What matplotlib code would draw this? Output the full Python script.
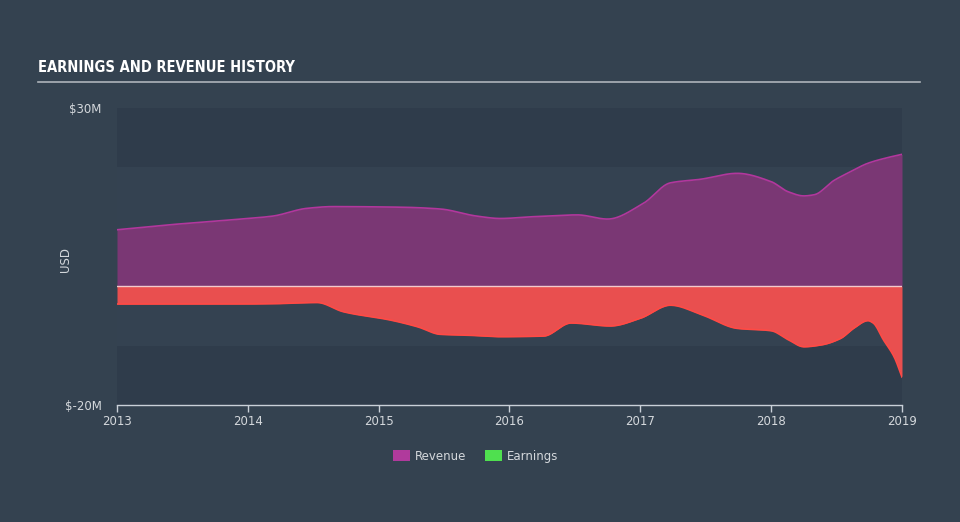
import numpy as np
import matplotlib
matplotlib.use("Agg")
import matplotlib.pyplot as plt
from matplotlib.patches import Patch
from matplotlib.lines import Line2D

# ---- data (values in $M) ----
rev_years = [2013.0, 2013.38, 2013.89, 2014.19, 2014.45, 2014.65, 2015.17, 2015.47,
             2015.75, 2015.93, 2016.18, 2016.52, 2016.75, 2017.02, 2017.23, 2017.46,
             2017.74, 2018.0, 2018.13, 2018.25, 2018.33, 2018.48, 2018.6, 2018.74,
             2018.9, 2019.0]
revenue = [9.5, 10.3, 11.2, 11.8, 13.1, 13.4, 13.3, 13.0,
           11.8, 11.4, 11.7, 12.0, 11.3, 13.9, 17.4, 18.0,
           19.0, 17.6, 15.9, 15.2, 15.4, 17.8, 19.2, 20.7,
           21.7, 22.2]

earn_years = [2013.0, 2013.89, 2014.19, 2014.53, 2014.73, 2015.09, 2015.30, 2015.47,
              2015.68, 2015.93, 2016.26, 2016.47, 2016.77, 2017.0, 2017.23, 2017.48,
              2017.74, 2018.0, 2018.13, 2018.25, 2018.38, 2018.53, 2018.63, 2018.74,
              2018.78, 2018.86, 2018.94, 2019.0]
earnings = [-3.0, -3.0, -2.95, -2.75, -4.3, -5.7, -6.85, -8.1,
            -8.25, -8.5, -8.4, -6.2, -6.7, -5.4, -3.2, -4.9,
            -7.1, -7.5, -9.0, -10.2, -9.9, -8.8, -7.1, -5.8,
            -6.2, -9.1, -11.9, -15.3]

year_ticks = [2013, 2014, 2015, 2016, 2017, 2018, 2019]
y_ticks = [30, -20]
y_tick_labels = ["$30M", "$-20M"]
series_names = ["Revenue", "Earnings"]


def monotone(x, y, n=800):
    """Monotone cubic (Fritsch-Carlson) rendering of a curve, like d3 curveMonotoneX."""
    x = np.asarray(x, float)
    y = np.asarray(y, float)
    h = np.diff(x)
    d = np.diff(y) / h
    m = np.zeros_like(y)
    m[0], m[-1] = d[0], d[-1]
    for i in range(1, len(y) - 1):
        if d[i - 1] * d[i] <= 0:
            m[i] = 0
        else:
            w1 = 2 * h[i] + h[i - 1]
            w2 = h[i] + 2 * h[i - 1]
            m[i] = (w1 + w2) / (w1 / d[i - 1] + w2 / d[i])
    xs = np.linspace(x[0], x[-1], n)
    idx = np.clip(np.searchsorted(x, xs) - 1, 0, len(x) - 2)
    t = (xs - x[idx]) / h[idx]
    h00 = 2 * t**3 - 3 * t**2 + 1
    h10 = t**3 - 2 * t**2 + t
    h01 = -2 * t**3 + 3 * t**2
    h11 = t**3 - t**2
    ys = h00 * y[idx] + h10 * h[idx] * m[idx] + h01 * y[idx + 1] + h11 * h[idx] * m[idx + 1]
    return xs, ys


BG = "#344250"
fig = plt.figure(figsize=(9.6, 5.22), dpi=100, facecolor=BG)
ax = fig.add_axes([117 / 960, 1 - 405 / 522, 785 / 960, 297 / 522])
ax.set_facecolor("#334150")

ax.set_xlim(2013, 2019.0)
ax.set_ylim(-20, 30)

# background bands
ax.axhspan(20, 30, color="#2f3c4b", zorder=0, lw=0)
ax.axhspan(-20, -10, color="#2f3c4b", zorder=0, lw=0)
ax.axhspan(-10, 20, color="#344251", zorder=0, lw=0)

rx, ry = monotone(rev_years, revenue)
ex, ey = monotone(earn_years, earnings)

ax.fill_between(rx, 0, ry, color="#7a3774", lw=0, zorder=2)
ax.plot(rx, ry, color="#b2379d", lw=1.2, zorder=3)
ax.fill_between(ex, 0, ey, color="#e94f4f", lw=0, zorder=2)
ax.plot(ex, ey, color="#ff4a45", lw=1.2, zorder=3)
ax.axhline(0, color="#f3c9cc", lw=1.0, zorder=4)

for s in ["top", "right", "left"]:
    ax.spines[s].set_visible(False)
ax.spines["bottom"].set_color("#c9d0d8")
ax.spines["bottom"].set_linewidth(1)

ax.set_xticks(year_ticks)
ax.set_xticklabels([str(y) for y in year_ticks])
ax.tick_params(axis="x", colors="#c9d0d8", length=5, width=1, labelsize=8.5,
               labelcolor="#d4d8dc", pad=2)
ax.set_yticks(y_ticks)
ax.set_yticklabels(y_tick_labels)
ax.tick_params(axis="y", length=0, labelsize=8.5, labelcolor="#d4d8dc", pad=11)
ax.set_ylabel("USD", color="#d4d8dc", fontsize=8.5)
ax.yaxis.set_label_coords(-0.057, 0.49)

# title and underline
fig.text(38 / 960, 1 - 68 / 522, "EARNINGS AND REVENUE HISTORY",
         family="DejaVu Sans", fontstretch="condensed", fontweight="bold",
         fontsize=10.5, color="#ffffff", va="center", ha="left")
fig.add_artist(Line2D([38 / 960, 920 / 960], [1 - 81.5 / 522, 1 - 81.5 / 522],
                      color="#aeb4ba", lw=1.2, transform=fig.transFigure))

handles = [Patch(facecolor="#b03a9c", edgecolor="none"),
           Patch(facecolor="#4fe04f", edgecolor="none")]
leg = fig.legend(handles, series_names, loc="center", bbox_to_anchor=(476 / 960, 1 - 456 / 522),
                 ncol=2, frameon=False, fontsize=8.5, handlelength=1.4, handleheight=1.1,
                 columnspacing=1.6, handletextpad=0.45)
for t in leg.get_texts():
    t.set_color("#d4d8dc")

fig.savefig("out.png", dpi=100, facecolor=BG)
